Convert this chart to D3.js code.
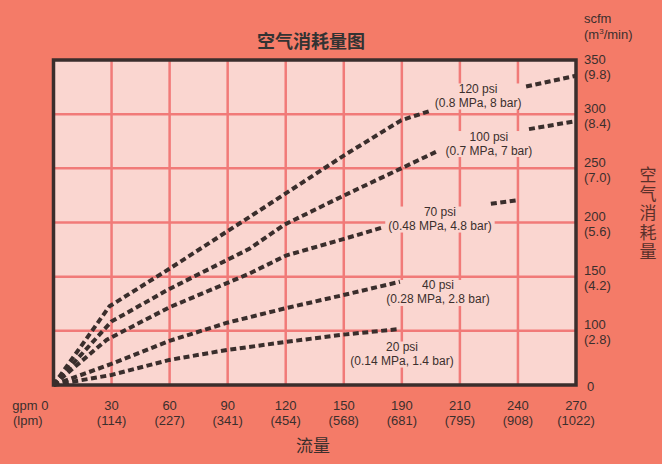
<!DOCTYPE html>
<html><head><meta charset="utf-8">
<script src="https://cdn.jsdelivr.net/npm/d3@7"></script>
<style>
html,body{margin:0;padding:0;background:#F47B68;}
svg{display:block;}
</style></head>
<body><svg id="chart" width="662" height="464"></svg>
<script>
// ---- data ----
const xTickValues = [0, 30, 60, 90, 120, 150, 180, 210, 240, 270];
const xTickGpm = ["0", "30", "60", "90", "120", "150", "190", "210", "240", "270"];
const xTickLpm = ["", "(114)", "(227)", "(341)", "(454)", "(568)", "(681)", "(795)", "(908)", "(1022)"];
const yTickValues = [0, 100, 150, 200, 250, 300, 350];
const yTickScfm = ["0", "100", "150", "200", "250", "300", "350"];
const yTickM3 = ["", "(2.8)", "(4.2)", "(5.6)", "(7.0)", "(8.4)", "(9.8)"];

const psi120X = [0, 28.9, 59.9, 101.2, 150.2, 179.7, 194.1, null, 244.2, 270];
const psi120Y = [0, 122.6, 157.3, 205, 262, 294.4, 302.7, null, 325.5, 335.5];
const psi100X = [0, 29.9, 59.9, 101.2, 119.3, 150.2, 179.7, 198.2, null, 245.7, 270];
const psi100Y = [0, 108.5, 138.7, 175.7, 198, 225, 250, 265.7, null, 286.2, 293.6];
const psi70X = [0, 27.4, 59.9, 101.2, 120.1, 150.2, 169.3, null, 226, 239];
const psi70Y = [0, 83.3, 121.7, 152.8, 169.5, 184.9, 195, null, 217.3, 220.4];
const psi40X = [0, 29.9, 59.9, 89.8, 119.8, 149.7, 179];
const psi40Y = [0, 38.9, 81.5, 107.5, 120.8, 133, 145.3];
const psi20X = [0, 29.9, 59.9, 89.8, 120.3, 148.7, 178.6];
const psi20Y = [0, 18.5, 46.3, 64.8, 79.6, 92.6, 101.6];

const seriesLabels = [
  ["120 psi", "(0.8 MPa, 8 bar)"],
  ["100 psi", "(0.7 MPa, 7 bar)"],
  ["70 psi", "(0.48 MPa, 4.8 bar)"],
  ["40 psi", "(0.28 MPa, 2.8 bar)"],
  ["20 psi", "(0.14 MPa, 1.4 bar)"]
];
// label anchor in data units (x gpm, y scfm)
const labelAtX = [219.4, 225, 199.7, 198.7, 180.1];
const labelAtY = [316.8, 272.9, 203.2, 135.4, 57.2];

// ---- layout ----
const plot = {left: 53.5, right: 576, top: 60, bottom: 385};
const C = {
  bg: "#F47B68", plotBg: "#FAD6D0", grid: "#F17A78", border: "#3A2E2C",
  line: "#3A2E2C", text: "#3B2F2D", axisTitle: "#5A302B"
};
const latin = "'Liberation Sans', Arial, sans-serif";
const cjk = "'Noto Sans CJK SC', 'Noto Sans', sans-serif";

const svg = d3.select("#chart");
svg.append("rect").attr("width", 662).attr("height", 464).attr("fill", C.bg);

const x = d3.scaleLinear().domain([0, 270]).range([plot.left, plot.right]);
const ystep = (plot.bottom - plot.top) / (yTickValues.length - 1);
const y = d3.scaleLinear().domain(yTickValues)
  .range(yTickValues.map((d, i) => plot.bottom - i * ystep));

// plot background
svg.append("rect").attr("x", plot.left).attr("y", plot.top)
  .attr("width", plot.right - plot.left).attr("height", plot.bottom - plot.top)
  .attr("fill", C.plotBg);

// grid
const g = svg.append("g");
g.selectAll("line.v").data(xTickValues.slice(1, -1)).join("line")
  .attr("x1", d => x(d)).attr("x2", d => x(d))
  .attr("y1", plot.top).attr("y2", plot.bottom)
  .attr("stroke", C.grid).attr("stroke-width", 2.5);
g.selectAll("line.h").data(yTickValues.slice(1, -1)).join("line")
  .attr("y1", d => y(d)).attr("y2", d => y(d))
  .attr("x1", plot.left).attr("x2", plot.right)
  .attr("stroke", C.grid).attr("stroke-width", 2.5);

// label backgrounds + labels
const lblG = svg.append("g");
seriesLabels.forEach((lab, i) => {
  const cx = x(labelAtX[i]), cy = y(labelAtY[i]);
  const grp = lblG.append("g");
  const t1 = grp.append("text").attr("x", cx).attr("y", cy - 3)
    .attr("text-anchor", "middle").attr("font-family", latin).attr("font-size", 12)
    .attr("fill", C.text).text(lab[0]);
  const t2 = grp.append("text").attr("x", cx).attr("y", cy + 11)
    .attr("text-anchor", "middle").attr("font-family", latin).attr("font-size", 12)
    .attr("fill", C.text).text(lab[1]);
  const b1 = t1.node().getBBox(), b2 = t2.node().getBBox();
  const x0 = Math.min(b1.x, b2.x) - 3, x1 = Math.max(b1.x + b1.width, b2.x + b2.width) + 3;
  grp.insert("rect", "text").attr("x", x0).attr("y", b1.y + 1.5)
    .attr("width", x1 - x0).attr("height", b2.y + b2.height - b1.y - 2)
    .attr("fill", C.plotBg);
});

// curves
const series = [[psi120X, psi120Y], [psi100X, psi100Y], [psi70X, psi70Y], [psi40X, psi40Y], [psi20X, psi20Y]];
const line = d3.line().defined(d => d[0] !== null)
  .x(d => x(d[0])).y(d => y(d[1]));
svg.append("g").selectAll("path").data(series).join("path")
  .attr("d", s => line(s[0].map((v, i) => [v, s[1][i]])))
  .attr("fill", "none").attr("stroke", C.line).attr("stroke-width", 4)
  .attr("stroke-dasharray", "6,3.5");

// border
svg.append("rect").attr("x", plot.left).attr("y", plot.top)
  .attr("width", plot.right - plot.left).attr("height", plot.bottom - plot.top)
  .attr("fill", "none").attr("stroke", C.border).attr("stroke-width", 3.5);

// x tick labels
const xt = svg.append("g").attr("font-family", latin).attr("font-size", 13).attr("fill", C.text);
xTickValues.forEach((v, i) => {
  if (i === 0) return;
  xt.append("text").attr("x", x(v)).attr("y", 409.5).attr("text-anchor", "middle").text(xTickGpm[i]);
  xt.append("text").attr("x", x(v)).attr("y", 424.5).attr("text-anchor", "middle").text(xTickLpm[i]);
});
xt.append("text").attr("x", x(0) - 5).attr("y", 409.5).attr("text-anchor", "end").text("gpm " + xTickGpm[0]);
xt.append("text").attr("x", 13).attr("y", 424.5).attr("text-anchor", "start").text("(lpm)");

// y tick labels (right)
const yt = svg.append("g").attr("font-family", latin).attr("font-size", 13).attr("fill", C.text);
yTickValues.forEach((v, i) => {
  const gy = y(v);
  if (i === 0) {
    yt.append("text").attr("x", plot.right + 11).attr("y", gy + 5.5).text(yTickScfm[i]);
    return;
  }
  const c1 = Math.max(gy - 6, plot.top - 1);
  yt.append("text").attr("x", plot.right + 8).attr("y", c1 + 4.5).text(yTickScfm[i]);
  yt.append("text").attr("x", plot.right + 8).attr("y", c1 + 19.5).text(yTickM3[i]);
});
yt.append("text").attr("x", plot.right + 8).attr("y", 22.5).text("scfm");
const unit = yt.append("text").attr("x", plot.right + 8).attr("y", 38.5);
unit.append("tspan").text("(m");
unit.append("tspan").attr("font-size", 8).attr("dy", -5).text("3");
unit.append("tspan").attr("dy", 5).text("/min)");

// titles
svg.append("text").attr("x", 311).attr("y", 48).attr("text-anchor", "middle")
  .attr("font-family", cjk).attr("font-weight", "bold").attr("font-size", 18)
  .attr("fill", "#333").text("空气消耗量图");
svg.append("text").attr("x", 313).attr("y", 452).attr("text-anchor", "middle")
  .attr("font-family", cjk).attr("font-size", 17).attr("fill", C.text).text("流量");
svg.append("text").attr("x", 648).attr("y", 166)
  .attr("font-family", cjk).attr("font-size", 17).attr("fill", C.axisTitle)
  .style("writing-mode", "vertical-rl").style("text-orientation", "upright")
  .style("letter-spacing", "2.2px")
  .text("空气消耗量");
</script></body></html>
